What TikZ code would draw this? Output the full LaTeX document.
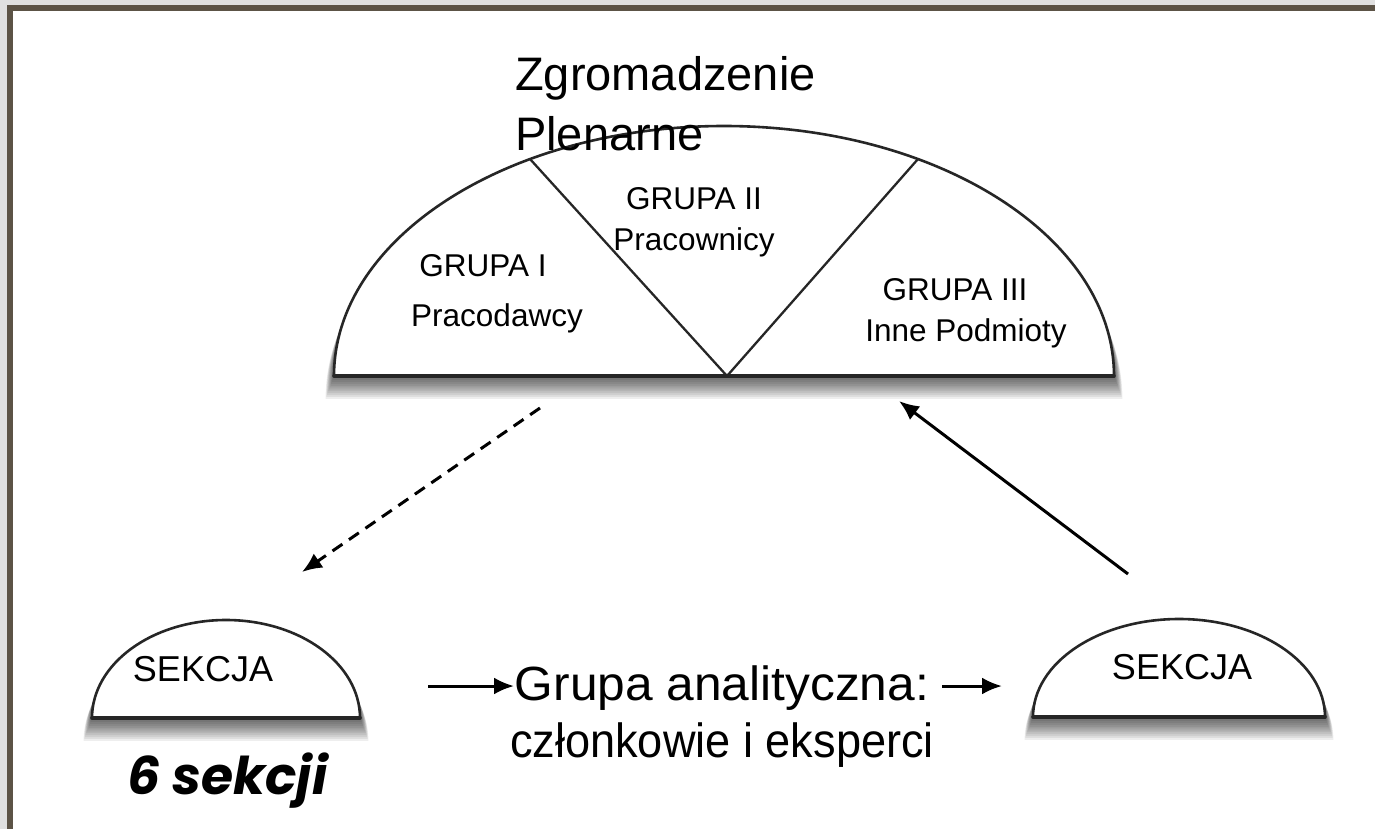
\documentclass[tikz,border=0pt]{standalone}
\usepackage{fontspec}
\setmainfont{Liberation Sans}
\newfontfamily\gothicfont{Poppins}
\usetikzlibrary{arrows.meta}
\definecolor{framecol}{HTML}{5C5346}
\definecolor{outercol}{HTML}{E0E0E0}
\newcommand\halfdome[4]{%
  \foreach \i in {1,...,12}{%
    \fill[black,opacity=0.065] ({#1-#3-\i*0.7},{#2+\i*1.9}) arc[start angle=180,end angle=360,x radius={#3+\i*0.7},y radius={#4+\i*0.7}] -- cycle;}
  \fill[white] ({#1-#3},#2) arc[start angle=180,end angle=360,x radius=#3,y radius=#4] -- cycle;
  \draw[domearc] ({#1-#3},#2) arc[start angle=180,end angle=360,x radius=#3,y radius=#4];
  \draw[domebase] ({#1-#3},#2) -- ({#1+#3},#2);
}
\begin{document}
\begin{tikzpicture}[x=1pt,y=-1pt,
  domearc/.style={line width=2.6pt,draw=black!85},
  domebase/.style={line width=3.6pt,draw=black!85,line cap=round},
  divider/.style={line width=2.3pt,draw=black!85},
  grp/.style={font=\fontsize{31.5}{40}\selectfont,inner sep=0pt},
  arrowline/.style={line width=3pt,-{Latex[length=20pt,width=17pt]}},
  dasharrow/.style={arrowline,dash pattern=on 12pt off 8pt}]
\useasboundingbox (0,0) rectangle (1375,829);
\fill[outercol] (0,0) rectangle (1375,829);
\fill[framecol] (7,5) rectangle (1375,829);
\fill[white] (13,11) rectangle (1375,829);

\halfdome{724}{376}{390}{250}
\halfdome{226}{718}{134}{98}
\halfdome{1179}{717}{146}{98}

\coordinate (apex) at (727,376);
\coordinate (lt) at (530,159);
\coordinate (rt) at (918,159);
\draw[divider] (lt) -- (apex) -- (rt);

\node[inner sep=0pt,anchor=base west,align=left,font=\fontsize{47}{60}\selectfont] (zp) at (515,151) {Zgromadzenie\\Plenarne};

\node[grp] (g1a) at (483,266) {GRUPA I};
\node[grp] (g1b) at (497,318) {Pracodawcy};
\node[grp] (g2a) at (694,199) {GRUPA II};
\node[grp] (g2b) at (694,242) {Pracownicy};
\node[grp] (g3a) at (955,290) {GRUPA III};
\node[grp] (g3b) at (966,333) {Inne Podmioty};

\node[inner sep=0pt,font=\fontsize{36}{40}\selectfont] (sk1) at (203,669) {SEKCJA};
\node[inner sep=0pt,font=\fontsize{36}{40}\selectfont] (sk2) at (1182,667) {SEKCJA};

\node[inner sep=0pt,anchor=base west,font=\gothicfont\bfseries\itshape\fontsize{52}{56}\selectfont] (six) at (127,794) {6 sekcji};

\node[inner sep=0pt,anchor=base,align=center,font=\fontsize{48}{57}\selectfont] (ga) at (722,757) {\scalebox{1.035}[1]{Grupa analityczna:}\\\scalebox{0.94}[1]{członkowie i eksperci}};

\coordinate (d1) at (540,408);
\coordinate (d2) at (302,572);
\draw[dasharrow] (d1) -- (d2);
\coordinate (s1) at (1128,574);
\coordinate (s2) at (899,401);
\draw[arrowline] (s1) -- (s2);
\coordinate (h1) at (428,686);
\coordinate (h4) at (514,686);
\draw[arrowline] (h1) -- (h4);
\coordinate (h2) at (942,686);
\coordinate (h3) at (1002,686);
\draw[arrowline] (h2) -- (h3);
\end{tikzpicture}
\end{document}
